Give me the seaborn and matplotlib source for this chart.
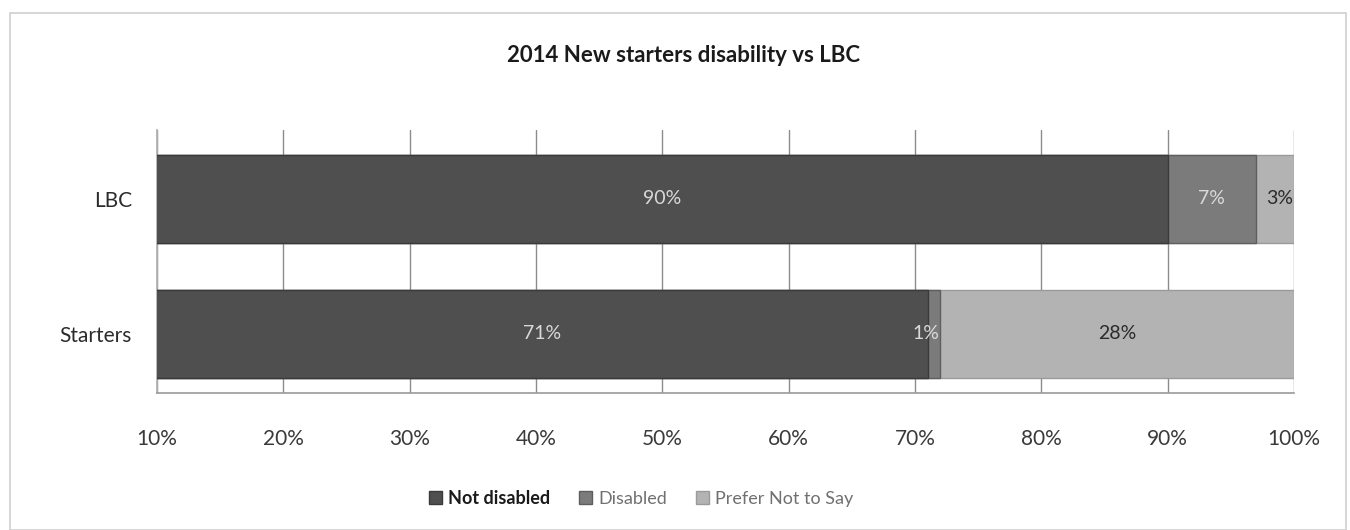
import matplotlib
matplotlib.use("Agg")
import matplotlib.pyplot as plt
import matplotlib.patches as mpatches
import pandas as pd
import seaborn as sns

# Data
groups = ["LBC", "Starters"]
series = ["Not disabled", "Disabled", "Prefer Not to Say"]
not_disabled = [90, 71]
disabled = [7, 1]
prefer_not = [3, 28]
tick_values = [10, 20, 30, 40, 50, 60, 70, 80, 90, 100]

values = {"Not disabled": not_disabled, "Disabled": disabled, "Prefer Not to Say": prefer_not}
colors = {"Not disabled": "#4f4f4f", "Disabled": "#7b7b7b", "Prefer Not to Say": "#b3b3b3"}
edges = {"Not disabled": "#3a3a3a", "Disabled": "#5e5e5e", "Prefer Not to Say": "#9a9a9a"}
label_colors = {"Not disabled": "#d9d9d9", "Disabled": "#d9d9d9", "Prefer Not to Say": "#2b2b2b"}

df = pd.DataFrame(values, index=groups)
cum = df.cumsum(axis=1)

sns.set_theme(style="white")
plt.rcParams["font.family"] = ["Lato", "DejaVu Sans"]

fig = plt.figure(figsize=(13.5, 5.3), dpi=100)
ax = fig.add_axes([0.1163, 0.2585, 0.8422, 0.4965])

# Stacked bars: draw cumulative totals from the outermost segment inward
for s in reversed(series):
    d = pd.DataFrame({"group": groups, "value": cum[s].values})
    sns.barplot(data=d, x="value", y="group", orient="h", ax=ax,
                color=colors[s], edgecolor=edges[s], linewidth=1.0,
                width=0.65, saturation=1, zorder=3)

xmin, xmax = 10, 100
ax.set_xlim(xmin, xmax)
ax.set_ylim(1.437, -0.511)

# Segment value labels, centred on the visible part of each segment
for i, g in enumerate(groups):
    left = 0
    for s in series:
        v = df.loc[g, s]
        right = left + v
        vis_left = max(left, xmin)
        xc = (vis_left + right) / 2
        ha = "center"
        if v <= 3:
            xc = right - 0.1
            ha = "right"
        ax.text(xc, i, f"{v}%", ha=ha, va="center", fontsize=14,
                color=label_colors[s], zorder=5)
        left = right

ax.set_xticks(tick_values)
ax.set_xticklabels([f"{t}%" for t in tick_values], fontsize=15, color="#3a3a3a")
ax.tick_params(axis="x", length=6, width=1, color="#999999", pad=20, direction="out")
ax.tick_params(axis="y", length=0, pad=18, labelsize=15, labelcolor="#2b2b2b")
ax.set_xlabel("")
ax.set_ylabel("")

ax.grid(axis="x", color="#8c8c8c", linewidth=1.0, zorder=0)
ax.set_axisbelow(True)
for side in ["top", "right"]:
    ax.spines[side].set_visible(False)
ax.spines["left"].set_color("#b0b0b0")
ax.spines["bottom"].set_color("#9a9a9a")
ax.spines["bottom"].set_linewidth(1.2)

fig.text(0.506, 0.895, "2014 New starters disability vs LBC", ha="center", va="center",
         fontsize=16, fontweight="bold", color="#1a1a1a")

handles = [mpatches.Patch(facecolor=colors[s], edgecolor=edges[s], label=s) for s in series]
leg = fig.legend(handles=handles, loc="center", bbox_to_anchor=(0.475, 0.06), ncol=3,
                 frameon=False, fontsize=13, handlelength=0.7, handleheight=0.7,
                 handletextpad=0.35, columnspacing=1.6)
for t, s in zip(leg.get_texts(), series):
    t.set_color("#1a1a1a" if s == "Not disabled" else "#707070")
leg.get_texts()[0].set_fontweight("bold")

# Chart border
fig.patches.append(mpatches.Rectangle((0.0074, 0.0), 0.99, 0.975, transform=fig.transFigure,
                                      fill=False, edgecolor="#cfcfcf", linewidth=1.2))

fig.savefig("out.png", dpi=100)
